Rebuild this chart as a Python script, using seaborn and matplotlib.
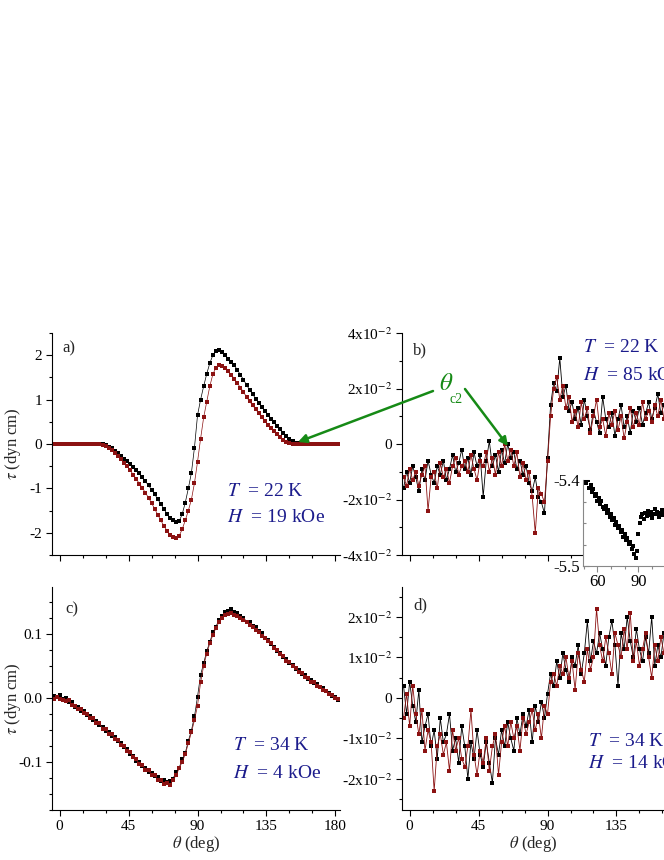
import numpy as np
import matplotlib
matplotlib.use('Agg')
import matplotlib.pyplot as plt
import seaborn as sns
from matplotlib.ticker import MultipleLocator, FixedLocator, FuncFormatter
from matplotlib.patches import FancyArrowPatch

sns.set_style('ticks')
plt.rcParams['font.family'] = ['Liberation Serif', 'DejaVu Serif']
plt.rcParams['mathtext.fontset'] = 'stix'
plt.rcParams['axes.unicode_minus'] = False

# ---------------- data ----------------
theta = np.arange(-4, 183, 2)

a_black = [0, 0, 0, 0, 0, 0, 0, 0, 0, 0,
           0, 0, 0, 0, 0, 0, -0.01, -0.03, -0.06, -0.10,
           -0.15, -0.21, -0.27, -0.33, -0.39, -0.45, -0.51, -0.58, -0.66, -0.75,
           -0.84, -0.93, -1.03, -1.13, -1.24, -1.35, -1.46, -1.57, -1.66, -1.72,
           -1.76, -1.74, -1.58, -1.32, -1.00, -0.65, -0.08, 0.65, 1.00, 1.30,
           1.58, 1.82, 2.00, 2.10, 2.12, 2.08, 2.01, 1.92, 1.85, 1.77,
           1.67, 1.56, 1.45, 1.33, 1.22, 1.12, 1.02, 0.93, 0.84, 0.75,
           0.66, 0.57, 0.49, 0.41, 0.33, 0.25, 0.17, 0.11, 0.06, 0.03,
           0.02, 0.01, 0, 0, 0, 0, 0, 0, 0, 0,
           0, 0, 0, 0]
a_red = [0, 0, 0, 0, 0, 0, 0, 0, 0, 0,
         0, 0, 0, 0, 0, 0, -0.02, -0.05, -0.09, -0.14,
         -0.20, -0.27, -0.34, -0.42, -0.50, -0.59, -0.69, -0.79, -0.89, -0.99,
         -1.10, -1.21, -1.33, -1.46, -1.59, -1.72, -1.84, -1.95, -2.04, -2.10,
         -2.12, -2.07, -1.92, -1.72, -1.50, -1.25, -0.88, -0.40, 0.12, 0.60,
         0.95, 1.30, 1.57, 1.72, 1.78, 1.76, 1.71, 1.64, 1.56, 1.47,
         1.37, 1.27, 1.17, 1.06, 0.96, 0.87, 0.78, 0.69, 0.60, 0.51,
         0.43, 0.36, 0.29, 0.22, 0.16, 0.10, 0.05, 0.02, 0.01, 0,
         0, 0, 0, 0, 0, 0, 0, 0, 0, 0,
         0, 0, 0, 0]

b_black = [-0.016, -0.010, -0.014, -0.008, -0.012, -0.017, -0.009, -0.013, -0.006, -0.011,
           -0.014, -0.008, -0.011, -0.006, -0.013, -0.009, -0.004, -0.010, -0.007, -0.002,
           -0.009, -0.005, -0.011, -0.003, -0.008, -0.004, -0.019, -0.006, 0.001, -0.008,
           -0.004, -0.010, -0.002, -0.007, 0.000, -0.005, -0.003, -0.009, -0.006, -0.011,
           -0.008, -0.014, -0.017, -0.012, -0.019, -0.021, -0.025, -0.005, 0.014, 0.022,
           0.019, 0.031, 0.017, 0.021, 0.012, 0.015, 0.009, 0.013, 0.007, 0.016,
           0.010, 0.005, 0.012, 0.008, 0.004, 0.017, 0.009, 0.006, 0.011, 0.003,
           0.009, 0.014, 0.006, 0.010, 0.004, 0.012, 0.008, 0.013, 0.007, 0.011,
           0.015, 0.009, 0.013, 0.018, 0.011, 0.014, 0.010, 0.016, 0.012, 0.009,
           0.014, 0.011, 0.015, 0.012]
b_red = [-0.012, -0.015, -0.009, -0.013, -0.010, -0.015, -0.011, -0.008, -0.024, -0.012,
         -0.010, -0.016, -0.007, -0.012, -0.009, -0.014, -0.008, -0.005, -0.011, -0.008,
         -0.006, -0.010, -0.004, -0.009, -0.013, -0.006, -0.008, -0.003, -0.010, -0.005,
         -0.011, -0.003, -0.008, 0.000, -0.006, -0.002, -0.008, -0.003, -0.012, -0.007,
         -0.013, -0.010, -0.019, -0.032, -0.016, -0.018, -0.021, -0.006, 0.010, 0.020,
         0.024, 0.016, 0.021, 0.013, 0.017, 0.008, 0.012, 0.006, 0.015, 0.009,
         0.013, 0.004, 0.010, 0.016, 0.006, 0.009, 0.003, 0.011, 0.007, 0.012,
         0.005, 0.010, 0.002, 0.008, 0.013, 0.006, 0.011, 0.007, 0.015, 0.009,
         0.012, 0.008, 0.014, 0.010, 0.016, 0.009, 0.013, 0.011, 0.017, 0.010,
         0.013, 0.009, 0.014, 0.011]

c_black = [0.003, 0.001, 0.004, -0.001, 0.000, -0.006, -0.007, -0.014, -0.014, -0.020,
           -0.021, -0.027, -0.028, -0.034, -0.036, -0.042, -0.045, -0.051, -0.053, -0.059,
           -0.061, -0.068, -0.070, -0.077, -0.080, -0.087, -0.090, -0.098, -0.100, -0.106,
           -0.109, -0.115, -0.117, -0.122, -0.124, -0.129, -0.128, -0.132, -0.129, -0.126,
           -0.116, -0.109, -0.096, -0.086, -0.067, -0.051, -0.029, 0.002, 0.036, 0.054,
           0.073, 0.087, 0.102, 0.111, 0.122, 0.127, 0.134, 0.135, 0.138, 0.134,
           0.133, 0.127, 0.125, 0.119, 0.118, 0.112, 0.110, 0.104, 0.101, 0.094,
           0.091, 0.084, 0.080, 0.073, 0.070, 0.063, 0.060, 0.054, 0.052, 0.045,
           0.043, 0.037, 0.035, 0.030, 0.028, 0.023, 0.022, 0.017, 0.015, 0.010,
           0.008, 0.003, 0.002, -0.003]
c_red = [-0.001, 0.002, -0.002, -0.003, -0.005, -0.004, -0.011, -0.012, -0.018, -0.018,
         -0.024, -0.025, -0.031, -0.032, -0.039, -0.040, -0.048, -0.049, -0.056, -0.057,
         -0.064, -0.066, -0.073, -0.075, -0.083, -0.085, -0.093, -0.096, -0.103, -0.104,
         -0.112, -0.113, -0.120, -0.121, -0.128, -0.128, -0.135, -0.133, -0.136, -0.128,
         -0.121, -0.110, -0.100, -0.088, -0.071, -0.054, -0.035, -0.012, 0.024, 0.050,
         0.069, 0.085, 0.098, 0.109, 0.118, 0.124, 0.129, 0.131, 0.132, 0.130,
         0.128, 0.125, 0.121, 0.118, 0.114, 0.111, 0.106, 0.103, 0.097, 0.094,
         0.088, 0.085, 0.078, 0.075, 0.068, 0.066, 0.058, 0.056, 0.049, 0.047,
         0.041, 0.039, 0.032, 0.031, 0.025, 0.024, 0.019, 0.017, 0.012, 0.011,
         0.006, 0.004, 0.000, -0.002]

d_black = [0.003, -0.004, 0.004, -0.002, -0.006, 0.002, -0.011, -0.007, -0.004, -0.012,
           -0.008, -0.015, -0.005, -0.011, -0.009, -0.004, -0.013, -0.010, -0.016, -0.007,
           -0.012, -0.020, -0.011, -0.015, -0.008, -0.014, -0.017, -0.011, -0.016, -0.021,
           -0.010, -0.014, -0.008, -0.012, -0.006, -0.010, -0.013, -0.005, -0.009, -0.004,
           -0.007, -0.003, -0.011, -0.002, -0.006, -0.001, -0.005, 0.001, 0.006, 0.003,
           0.009, 0.005, 0.011, 0.007, 0.004, 0.010, 0.008, 0.013, 0.006, 0.011,
           0.019, 0.009, 0.014, 0.011, 0.016, 0.012, 0.008, 0.015, 0.019, 0.013,
           0.003, 0.016, 0.012, 0.020, 0.014, 0.010, 0.017, 0.012, 0.009, 0.015,
           0.011, 0.020, 0.008, 0.013, 0.010, 0.016, 0.012, 0.009, 0.014, 0.011,
           0.013, 0.010, 0.015, 0.012]
d_red = [-0.005, 0.001, -0.007, 0.003, -0.004, -0.009, -0.003, -0.013, -0.008, -0.011,
         -0.023, -0.012, -0.009, -0.014, -0.011, -0.018, -0.008, -0.013, -0.010, -0.015,
         -0.017, -0.012, -0.003, -0.014, -0.019, -0.013, -0.016, -0.010, -0.018, -0.012,
         -0.009, -0.019, -0.011, -0.007, -0.012, -0.006, -0.010, -0.007, -0.013, -0.005,
         -0.009, -0.006, -0.003, -0.008, -0.004, -0.010, -0.002, -0.004, 0.004, 0.006,
         0.003, 0.008, 0.006, 0.010, 0.005, 0.009, 0.002, 0.011, 0.007, 0.004,
         0.012, 0.007, 0.010, 0.022, 0.013, 0.009, 0.015, 0.011, 0.006, 0.016,
         0.013, 0.010, 0.017, 0.012, 0.021, 0.009, 0.014, 0.008, 0.012, 0.016,
         0.010, 0.005, 0.013, 0.009, 0.015, 0.011, 0.007, 0.012, 0.002, 0.010,
         0.012, 0.009, 0.013, 0.011]

inset_theta = np.arange(51, 126)
inset_tau = [-5.401, -5.404, -5.400, -5.409, -5.406, -5.414, -5.411, -5.419, -5.416, -5.424,
             -5.421, -5.428, -5.425, -5.431, -5.434, -5.430, -5.438, -5.435, -5.443, -5.440,
             -5.447, -5.444, -5.452, -5.449, -5.456, -5.453, -5.461, -5.458, -5.466, -5.463,
             -5.470, -5.468, -5.475, -5.472, -5.480, -5.477, -5.486, -5.491, -5.482, -5.463,
             -5.450, -5.443, -5.440, -5.445, -5.438, -5.442, -5.436, -5.441, -5.437, -5.444,
             -5.439, -5.434, -5.440, -5.437, -5.443, -5.438, -5.435, -5.441, -5.436, -5.440,
             -5.437, -5.442, -5.436, -5.439, -5.444, -5.438, -5.435, -5.441, -5.437, -5.440,
             -5.436, -5.442, -5.438, -5.435, -5.440]

panel_labels = ['a)', 'b)', 'c)', 'd)']
cond_T = ['22 K', '22 K', '34 K', '34 K']
cond_H = ['19 kOe', '85 kOe', '4 kOe', '14 kOe']

# ---------------- figure ----------------
W, H = 664, 860
fig = plt.figure(figsize=(W / 100, H / 100), dpi=100)


def rect(l, t, w, h):
    return [l / W, 1 - (t + h) / H, w / W, h / H]


BLACK = '#000000'
RED = '#8c1212'
NAVY = '#1c1c8c'
GREEN = '#168a16'

PX_PER_DEG = 288 / 188.0
ax_a = fig.add_axes(rect(52, 333, 288, 222))
ax_b = fig.add_axes(rect(402, 333, 262, 222))
ax_c = fig.add_axes(rect(52, 587, 288, 223))
ax_d = fig.add_axes(rect(402, 587, 262, 223))


def style(ax, xlabels, xmax):
    sns.despine(ax=ax)
    ax.set_xlim(-5, xmax)
    ax.xaxis.set_major_locator(MultipleLocator(45))
    ax.xaxis.set_minor_locator(MultipleLocator(15))
    ax.tick_params(which='major', direction='out', length=4.5, width=0.8,
                   labelsize=11, pad=2.5, color='black', labelcolor='black')
    ax.tick_params(which='minor', direction='out', length=2.5, width=0.8, color='black')
    for s in ['left', 'bottom']:
        ax.spines[s].set_linewidth(0.8)
        ax.spines[s].set_color('black')
    if not xlabels:
        ax.tick_params(axis='x', labelbottom=False)
        ax.set_xlabel('')
    else:
        ax.set_xlabel(r'$\theta$ (deg)', fontsize=12, labelpad=1)
    ax.grid(False)


def sci(v, pos):
    if abs(v) < 1e-9:
        return '0'
    return '%gx10$^{-2}$' % round(v * 100, 3)


kw = dict(estimator=None, sort=False, marker='s', markeredgewidth=0)

for ax, yb, yr, ms, lw in [(ax_a, a_black, a_red, 3.2, 0.5),
                           (ax_b, b_black, b_red, 2.8, 0.6),
                           (ax_c, c_black, c_red, 3.2, 0.5),
                           (ax_d, d_black, d_red, 2.8, 0.6)]:
    sns.lineplot(x=theta, y=yb, ax=ax, color=BLACK, markersize=ms, linewidth=lw, **kw)
    sns.lineplot(x=theta, y=yr, ax=ax, color=RED, markersize=ms, linewidth=lw, **kw)

xmax_right = -5 + 262 / PX_PER_DEG
style(ax_a, False, 183)
style(ax_b, False, xmax_right)
style(ax_c, True, 183)
style(ax_d, True, xmax_right)

ax_a.set_ylim(-2.5, 2.5)
ax_a.yaxis.set_major_locator(MultipleLocator(1))
ax_a.yaxis.set_minor_locator(MultipleLocator(0.5))
ax_a.yaxis.set_major_formatter(FuncFormatter(lambda v, p: '%d' % round(v)))

ax_b.set_ylim(-0.04, 0.04)
ax_b.yaxis.set_major_locator(MultipleLocator(0.02))
ax_b.yaxis.set_minor_locator(MultipleLocator(0.01))
ax_b.yaxis.set_major_formatter(FuncFormatter(sci))

ax_c.set_ylim(-0.175, 0.173)
ax_c.yaxis.set_major_locator(MultipleLocator(0.1))
ax_c.yaxis.set_minor_locator(MultipleLocator(0.025))
ax_c.yaxis.set_major_formatter(FuncFormatter(lambda v, p: '%.1f' % v))

ax_d.set_ylim(-0.0277, 0.0274)
ax_d.yaxis.set_major_locator(MultipleLocator(0.01))
ax_d.yaxis.set_minor_locator(MultipleLocator(0.005))
ax_d.yaxis.set_major_formatter(FuncFormatter(sci))

for ax in (ax_a, ax_c):
    ax.set_ylabel(r'$\tau$ (dyn cm)', fontsize=12)
    ax.yaxis.set_label_coords(-0.100, 0.5)
for ax in (ax_b, ax_d):
    ax.set_ylabel('')

# inset in panel b
ax_in = fig.add_axes(rect(583, 480, 81, 86))
ax_in.set_facecolor('white')
sns.scatterplot(x=inset_theta, y=inset_tau, ax=ax_in, color=BLACK, s=6,
                marker='s', linewidth=0)
sns.despine(ax=ax_in)
ax_in.set_xlim(49.5, 49.5 + 81 / 41 * 30)
ax_in.set_ylim(-5.5, -5.4)
ax_in.yaxis.set_major_locator(FixedLocator([-5.5, -5.4]))
ax_in.yaxis.set_minor_locator(MultipleLocator(0.025))
ax_in.xaxis.set_major_locator(MultipleLocator(30))
ax_in.xaxis.set_minor_locator(MultipleLocator(10))
ax_in.yaxis.set_major_formatter(FuncFormatter(lambda v, p: '%.1f' % v))
ax_in.tick_params(which='both', color='#888888', width=0.8, labelsize=12,
                  labelcolor='black')
ax_in.tick_params(axis='y', which='major', direction='in', length=4, pad=2)
ax_in.tick_params(axis='y', which='minor', direction='in', length=2.5)
ax_in.tick_params(axis='x', which='major', direction='out', length=4, pad=2)
ax_in.tick_params(axis='x', which='minor', direction='out', length=2.5)
for s in ['left', 'bottom']:
    ax_in.spines[s].set_color('#888888')
    ax_in.spines[s].set_linewidth(0.8)
ax_in.set_xlabel('')
ax_in.set_ylabel('')
ax_in.grid(False)


def ftext(x, y, s, **k):
    fig.text(x / W, 1 - y / H, s, **k)


# panel labels
for (x, y), lab in zip([(62, 348), (413, 350), (65, 609), (413, 605)], panel_labels):
    ftext(x, y, lab, fontsize=12, ha='left', va='center')

# conditions
for (x, yT, yH), t, h in zip([(227, 492, 518), (583, 348, 375), (233, 745, 773), (588, 741, 763)],
                             cond_T, cond_H):
    ftext(x, yT, r'$T$  = ' + t, fontsize=14, color=NAVY, ha='left', va='center')
    ftext(x, yH, r'$H$  = ' + h, fontsize=14, color=NAVY, ha='left', va='center')

# theta_c2 label and arrows
ftext(446, 384, r'$\theta$', fontsize=18, color=GREEN, ha='center', va='center')
ftext(450, 400, 'c2', fontsize=10, color=GREEN, ha='left', va='center')

for (x0, y0), (x1, y1) in [((433, 391), (298, 442)), ((465, 389), (508, 446))]:
    arr = FancyArrowPatch((x0 / W, 1 - y0 / H), (x1 / W, 1 - y1 / H),
                          transform=fig.transFigure,
                          arrowstyle='-|>,head_length=5,head_width=2.5',
                          color=GREEN, linewidth=1.8, shrinkA=0, shrinkB=0,
                          mutation_scale=1, zorder=10)
    fig.add_artist(arr)

fig.savefig('out.png', dpi=100)
